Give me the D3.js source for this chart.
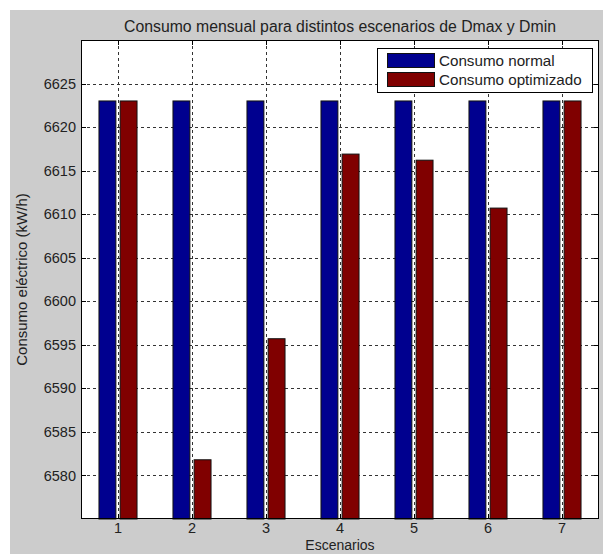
<!DOCTYPE html>
<html>
<head>
<meta charset="utf-8">
<script src="https://cdn.jsdelivr.net/npm/d3@7"></script>
<style>
  body { margin: 0; background: #fff; }
  svg text { font-family: "Liberation Sans", Arial, sans-serif; fill: #222; }
</style>
</head>
<body>
<div id="chart"></div>
<script>
// Scenario data
const escenarios = [1, 2, 3, 4, 5, 6, 7];
const consumoNormal = [6623, 6623, 6623, 6623, 6623, 6623, 6623];
const consumoOptimizado = [6623, 6581.8, 6595.7, 6616.9, 6616.2, 6610.7, 6623];
const yTicks = [6580, 6585, 6590, 6595, 6600, 6605, 6610, 6615, 6620, 6625];
const seriesNames = ['Consumo normal', 'Consumo optimizado'];
const seriesColors = ['#00008f', '#800000'];

const width = 603, height = 554;
const plot = { left: 81, right: 599, top: 40, bottom: 519 };

const svg = d3.select('#chart').append('svg')
    .attr('width', width)
    .attr('height', height);

// Figure background
svg.append('rect')
    .attr('x', 10).attr('y', 10)
    .attr('width', width - 10).attr('height', height - 10)
    .attr('fill', '#cccccc');

const x = d3.scaleLinear().domain([0.5, 7.5]).range([plot.left, plot.right]);
const y = d3.scaleLinear().domain([6575, 6630]).range([plot.bottom, plot.top]);

// Axes area
svg.append('rect')
    .attr('x', plot.left).attr('y', plot.top)
    .attr('width', plot.right - plot.left).attr('height', plot.bottom - plot.top)
    .attr('fill', '#fff');

// Grid lines
const grid = svg.append('g')
    .attr('stroke', '#333')
    .attr('stroke-width', 1)
    .attr('stroke-dasharray', '3,3');

grid.selectAll('.gy').data(yTicks).enter().append('line')
    .attr('x1', plot.left).attr('x2', plot.right)
    .attr('y1', d => Math.round(y(d)) + 0.5).attr('y2', d => Math.round(y(d)) + 0.5);

grid.selectAll('.gx').data(escenarios).enter().append('line')
    .attr('y1', plot.top).attr('y2', plot.bottom)
    .attr('x1', d => Math.round(x(d)) + 0.5).attr('x2', d => Math.round(x(d)) + 0.5);

// Grouped bars (MATLAB-style layout)
const groupWidth = 2 / 3.5;
const barWidth = groupWidth / 2 * 0.8;
const offsets = [-groupWidth / 4, groupWidth / 4];
const allSeries = [consumoNormal, consumoOptimizado];

allSeries.forEach((values, s) => {
    svg.append('g').selectAll('rect').data(values).enter().append('rect')
        .attr('x', (d, i) => x(escenarios[i] + offsets[s] - barWidth / 2))
        .attr('y', d => y(d))
        .attr('width', x(barWidth) - x(0))
        .attr('height', d => y(6575) - y(d))
        .attr('fill', seriesColors[s])
        .attr('stroke', '#111')
        .attr('stroke-width', 1);
});

// Inward ticks on all four sides
const tickLen = 5;
const ticks = svg.append('g').attr('stroke', '#000').attr('stroke-width', 1);
yTicks.forEach(t => {
    const yy = Math.round(y(t)) + 0.5;
    ticks.append('line').attr('x1', plot.left).attr('x2', plot.left + tickLen).attr('y1', yy).attr('y2', yy);
    ticks.append('line').attr('x1', plot.right - tickLen).attr('x2', plot.right).attr('y1', yy).attr('y2', yy);
});
escenarios.forEach(t => {
    const xx = Math.round(x(t)) + 0.5;
    ticks.append('line').attr('y1', plot.bottom).attr('y2', plot.bottom - tickLen).attr('x1', xx).attr('x2', xx);
    ticks.append('line').attr('y1', plot.top).attr('y2', plot.top + tickLen).attr('x1', xx).attr('x2', xx);
});

// Axes box
svg.append('rect')
    .attr('x', plot.left + 0.5).attr('y', plot.top + 0.5)
    .attr('width', plot.right - plot.left - 1).attr('height', plot.bottom - plot.top - 1)
    .attr('fill', 'none')
    .attr('stroke', '#000')
    .attr('stroke-width', 1);

// Tick labels
svg.append('g').selectAll('text').data(yTicks).enter().append('text')
    .attr('x', plot.left - 5)
    .attr('y', d => y(d))
    .attr('dy', '0.35em')
    .attr('text-anchor', 'end')
    .attr('font-size', 14.5)
    .text(d => d);

svg.append('g').selectAll('text').data(escenarios).enter().append('text')
    .attr('x', d => x(d))
    .attr('y', plot.bottom + 14)
    .attr('text-anchor', 'middle')
    .attr('font-size', 14.5)
    .text(d => d);

// Title and axis labels
svg.append('text')
    .attr('x', (plot.left + plot.right) / 2)
    .attr('y', 32)
    .attr('text-anchor', 'middle')
    .attr('font-size', 15.8)
    .text('Consumo mensual para distintos escenarios de Dmax y Dmin');

svg.append('text')
    .attr('x', (plot.left + plot.right) / 2)
    .attr('y', 550)
    .attr('text-anchor', 'middle')
    .attr('font-size', 14)
    .text('Escenarios');

svg.append('text')
    .attr('transform', `translate(27, ${(plot.top + plot.bottom) / 2}) rotate(-90)`)
    .attr('text-anchor', 'middle')
    .attr('font-size', 15)
    .text('Consumo eléctrico (kW/h)');

// Legend
const legend = svg.append('g').attr('transform', 'translate(377, 48)');
legend.append('rect')
    .attr('x', 0.5).attr('y', 0.5)
    .attr('width', 215).attr('height', 44)
    .attr('fill', '#fff')
    .attr('stroke', '#000');

seriesNames.forEach((name, i) => {
    legend.append('rect')
        .attr('x', 10.5).attr('y', 5.5 + i * 19)
        .attr('width', 47).attr('height', 14)
        .attr('fill', seriesColors[i])
        .attr('stroke', '#111');
    legend.append('text')
        .attr('x', 62)
        .attr('y', 12.5 + i * 19)
        .attr('dy', '0.35em')
        .attr('font-size', 15.2)
        .text(name);
});
</script>
</body>
</html>
